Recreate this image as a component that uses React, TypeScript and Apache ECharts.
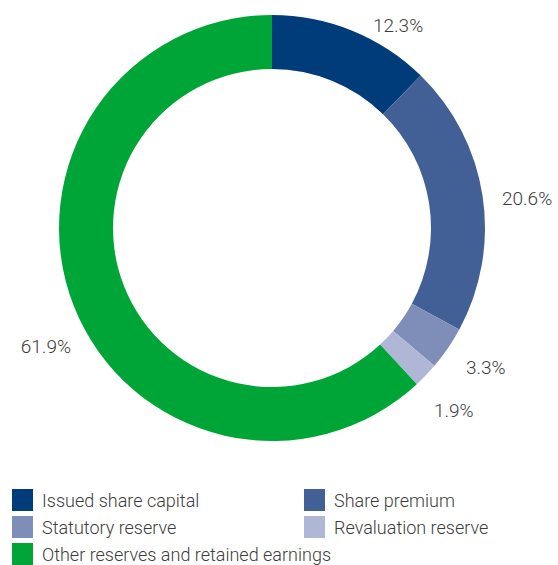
import React, { useEffect, useRef } from "react";
import * as echarts from "echarts";

const categories = [
  "Issued share capital",
  "Share premium",
  "Statutory reserve",
  "Revaluation reserve",
  "Other reserves and retained earnings",
];
const shares = [12.3, 20.6, 3.3, 1.9, 61.9];
const colors = ["#003b7a", "#426096", "#7f8db9", "#b0b7d6", "#00a538"];

// label anchor positions (styling only)
const labelAnchors: [number, number, string][] = [
  [373, 25.5, "left"],
  [502, 198, "left"],
  [466, 367, "left"],
  [434, 410.5, "left"],
  [71, 346.5, "right"],
];

const legendLeft = ["Issued share capital", "Statutory reserve", "Other reserves and retained earnings"];
const legendRight = ["Share premium", "Revaluation reserve"];

const FONT = "Roboto";

export default function App() {
  const ref = useRef<HTMLDivElement>(null);
  useEffect(() => {
    document.body.style.margin = "0";
    const chart = echarts.init(ref.current!, undefined, { renderer: "svg" });
    const legendCommon = {
      orient: "vertical" as const,
      top: 489,
      height: 80,
      padding: 0,
      itemWidth: 21,
      itemHeight: 22,
      itemGap: 5,
      icon: "rect",
      selectedMode: false,
      textStyle: {
        fontFamily: FONT,
        fontWeight: 300,
        fontSize: 18,
        color: "#3c3c3c",
        padding: [0, 0, 0, 4],
      },
    };
    chart.setOption({
      animation: false,
      color: colors,
      legend: [
        { ...legendCommon, left: 12, data: legendLeft },
        { ...legendCommon, left: 304, data: legendRight },
      ],
      series: [
        {
          type: "pie",
          center: [272, 228],
          radius: [159, 213],
          startAngle: 90,
          clockwise: true,
          avoidLabelOverlap: false,
          label: {
            show: true,
            position: "outside",
            formatter: (p: any) => p.value.toFixed(1) + "%",
            fontFamily: FONT,
            fontWeight: 300,
            fontSize: 19,
            color: "#3c3c3c",
          },
          labelLine: { show: false },
          labelLayout: (params: any) => {
            const a = labelAnchors[params.dataIndex];
            return { x: a[0], y: a[1], align: a[2], verticalAlign: "middle" };
          },
          emphasis: { disabled: true },
          data: categories.map((name, i) => ({ name, value: shares[i] })),
        },
      ],
    });
    return () => chart.dispose();
  }, []);
  return <div ref={ref} style={{ width: 558, height: 565 }} />;
}
